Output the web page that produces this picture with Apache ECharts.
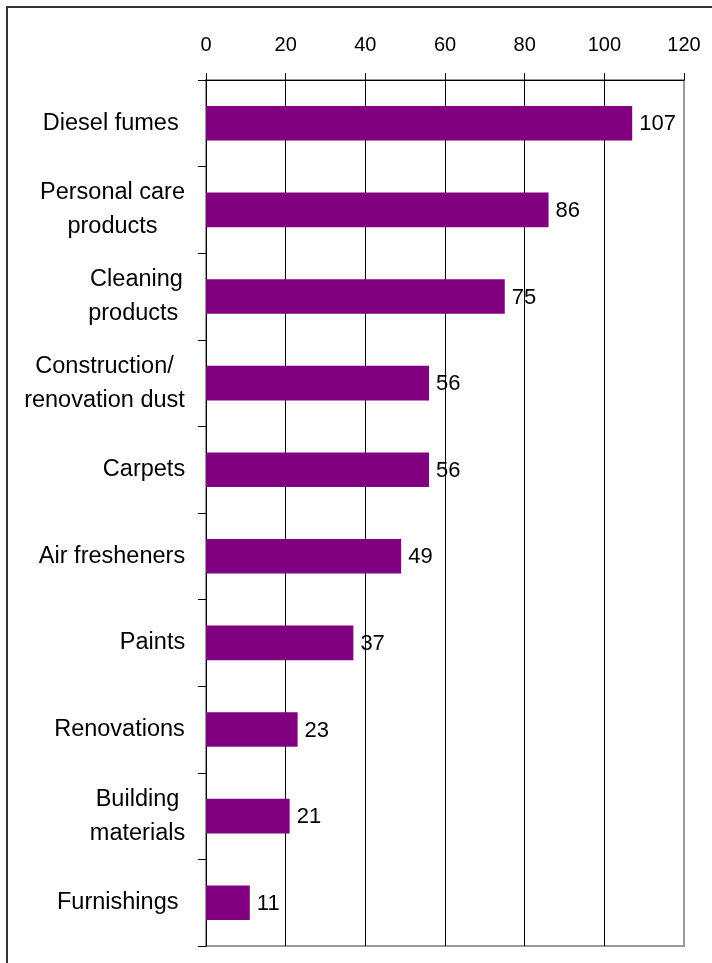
<!DOCTYPE html>
<html>
<head>
<meta charset="utf-8">
<script src="https://cdn.jsdelivr.net/npm/echarts@6/dist/echarts.min.js"></script>
<style>
html,body{margin:0;padding:0;background:#fff;}
#chart{width:712px;height:963px;}
</style>
</head>
<body>
<div id="chart"></div>
<script>
var categories = ['Diesel fumes ', 'Personal care\nproducts', 'Cleaning\nproducts ', 'Construction/\nrenovation dust', 'Carpets', 'Air fresheners', 'Paints', 'Renovations', 'Building\nmaterials', 'Furnishings '];
var values = [107, 86, 75, 56, 56, 49, 37, 23, 21, 11];
var axisMin = 0, axisMax = 120, axisStep = 20;

var FONT = "'Liberation Sans', Arial, sans-serif";
var CAT_SIZE = 23.5;

// measure widest line of each label so lines are centred within a right-aligned block
var cv = document.createElement('canvas').getContext('2d');
cv.font = CAT_SIZE + 'px ' + FONT;
var catData = categories.map(function (c) {
  var w = Math.max.apply(null, c.split('\n').map(function (l) { return cv.measureText(l).width; }));
  return {value: c, textStyle: {align: 'center', padding: [6, Math.round(w), 0, 0]}};
});

var chart = echarts.init(document.getElementById('chart'), null, {renderer: 'canvas'});
chart.setOption({
  animation: false,
  backgroundColor: '#fff',
  grid: {left: 206, top: 80, right: 28, bottom: 17, show: true, borderColor: '#999', borderWidth: 2, backgroundColor: 'transparent'},
  xAxis: {
    type: 'value', position: 'top', min: axisMin, max: axisMax, interval: axisStep,
    axisLine: {show: true, lineStyle: {color: '#000', width: 1}},
    axisTick: {show: true, length: 7, lineStyle: {color: '#000'}},
    axisLabel: {fontFamily: FONT, fontSize: 20, color: '#000', margin: 25},
    splitLine: {show: true, lineStyle: {color: ['#000', '#000', '#000', '#000', '#000', '#000', '#999'], width: 1}}
  },
  yAxis: {
    type: 'category', inverse: true, data: catData,
    axisLine: {show: true, lineStyle: {color: '#000', width: 1}},
    axisTick: {show: true, length: 8, lineStyle: {color: '#000'}},
    axisLabel: {fontFamily: FONT, fontSize: CAT_SIZE, color: '#000', margin: 21, lineHeight: 34},
    splitLine: {show: false}
  },
  series: [{
    type: 'bar', data: values, barCategoryGap: '60%',
    itemStyle: {color: '#800080'},
    label: {show: true, position: 'right', distance: 7, fontFamily: FONT, fontSize: 22, color: '#000', offset: [0, 1]}
  }],
  graphic: [{
    type: 'polyline', silent: true,
    shape: {points: [[7, 963], [7, 7], [712, 7]]},
    style: {stroke: '#333', lineWidth: 2, fill: null}
  }]
});
</script>
</body>
</html>
